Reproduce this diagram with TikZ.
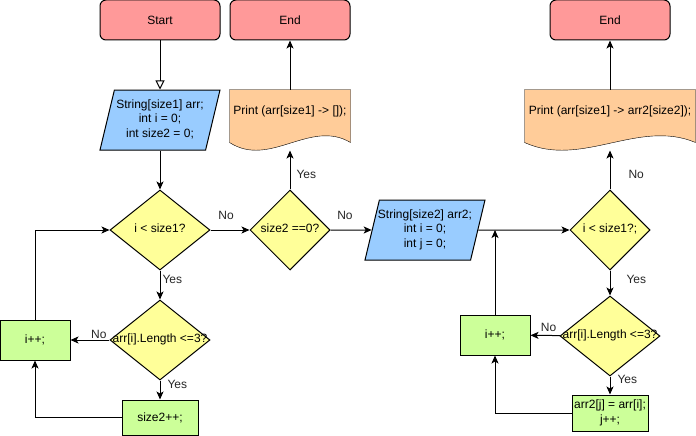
\documentclass[tikz,border=0pt]{standalone}
\usepackage{fontspec}
\setmainfont{Liberation Sans}
\usetikzlibrary{shapes.geometric, arrows.meta, calc, backgrounds}
\definecolor{termfill}{HTML}{FF9999}
\definecolor{iofill}{HTML}{99CCFF}
\definecolor{decfill}{HTML}{FFFF99}
\definecolor{procfill}{HTML}{CCFF99}
\definecolor{docfill}{HTML}{FFCC99}
\newcommand{\boxtext}[1]{\makebox[0pt]{\begin{tabular}{@{}c@{}}#1\end{tabular}}}
\tikzset{
	->, % every connector is directed
	>={Stealth[length=8pt,width=7pt,inset=2pt]}, % filled arrow heads
	every node/.style={font=\fontsize{12pt}{14.4pt}\selectfont},
	term/.style={rectangle, rounded corners=6pt, draw, fill=termfill, minimum width=120pt, minimum height=40pt}, % start and end
	io/.style={trapezium, trapezium left angle=71.57, trapezium right angle=108.43, trapezium stretches body=true, draw, fill=iofill, minimum width=120pt, minimum height=60pt, inner sep=0pt}, % data boxes
	decision/.style={diamond, draw, fill=decfill, minimum height=80pt, inner sep=0pt}, % questions
	process/.style={rectangle, draw, fill=procfill, minimum width=70pt, minimum height=40pt, inner sep=0pt}, % steps
	doc/.style={rectangle, minimum height=60pt, inner xsep=0pt, text height=9pt, text depth=21pt}, % print boxes, outline drawn below
	lbl/.style={text=black!85, inner sep=1pt}, % Yes / No
	hollow/.style={-{Triangle[open,length=9pt,width=9pt]}},
}
\begin{document}
\begin{tikzpicture}[x=1pt, y=-1pt, line width=1pt]
	\useasboundingbox (0,0) rectangle (696,436);
	% first loop
	\node[term] (start) at (160,20) {Start};
	\node[io] (in1) at (160,120) {\boxtext{String[size1] arr;\\ int i = 0;\\ int size2 = 0;}};
	\node[decision, minimum width=100pt] (c1) at (160,230) {\boxtext{i < size1?}};
	\node[decision, minimum width=100pt] (len1) at (160,340) {\boxtext{arr[i].Length <=3?}};
	\node[process] (i1) at (35,340) {i++;};
	\node[process, minimum width=76pt, minimum height=35pt] (s2) at (160,417.5) {size2++;};
	% empty result
	\node[decision, minimum width=80pt] (c2) at (290,230) {\boxtext{size2 ==0?}};
	\node[doc, minimum width=120pt] (p1) at (290,120) {Print (arr[size1] -> []);};
	\node[term] (e1) at (290,20) {End};
	% second loop
	\node[io] (in2) at (425,230) {\boxtext{String[size2] arr2;\\ int i = 0;\\ int j = 0;}};
	\node[decision, minimum width=80pt] (c3) at (610,230) {\boxtext{i < size1?;}};
	\node[decision, minimum width=100pt] (len2) at (610,336) {\boxtext{arr[i].Length <=3?}};
	\node[process] (i2) at (495,335) {i++;};
	\node[process, minimum width=76pt, minimum height=36pt] (a2) at (610,413) {\boxtext{arr2[j] = arr[i];\\ j++;}};
	\node[doc, minimum width=170pt] (p3) at (610,120) {Print (arr[size1] -> arr2[size2]);};
	\node[term] (e2) at (610,20) {End};

	\begin{scope}[on background layer]
		\foreach \n in {p1,p3}
			\draw[fill=docfill] (\n.north west) -- (\n.north east) -- ($(\n.south east)+(0,-8)$)
				.. controls ($(\n.south east)!1/3!(\n.south west)+(0,-32)$) and ($(\n.south east)!2/3!(\n.south west)+(0,18)$) .. ($(\n.south west)+(0,-8)$) -- cycle;
	\end{scope}

	\draw[hollow] (start) -- (in1);
	\draw (in1) -- (c1);
	\draw (c1) -- node[lbl, above=9pt, pos=0.4]{No} (c2);
	\draw (c1) -- node[lbl, right=1pt, pos=0.3]{Yes} (len1);
	\draw (len1) -- node[lbl, above=0pt, pos=0.275]{No} (i1);
	\draw (len1) -- node[lbl, right=6pt, pos=0.2]{Yes} (s2);
	\draw (i1) |- (c1);
	\draw (s2) -| (i1);
	%
	\draw (c2) -- node[lbl, right=5pt, pos=0.375]{Yes} (p1);
	\draw (p1) -- (e1);
	\draw (c2) -- node[lbl, above=9pt, pos=0.35]{No} (in2);
	%
	\draw (in2) -- (c3);
	\draw (c3) -- node[lbl, right=17pt, pos=0.375]{No} (p3);
	\draw (p3) -- (e2);
	\draw (c3) -- node[lbl, right=15pt, pos=0.35]{Yes} (len2);
	\draw (len2) -- node[lbl, above=2pt, pos=0.39]{No} (i2);
	\draw (len2) -- node[lbl, right=6pt, pos=0.16]{Yes} (a2);
	\draw (i2) -- (i2 |- c3);
	\draw (a2) -| (i2);
\end{tikzpicture}
\end{document}
